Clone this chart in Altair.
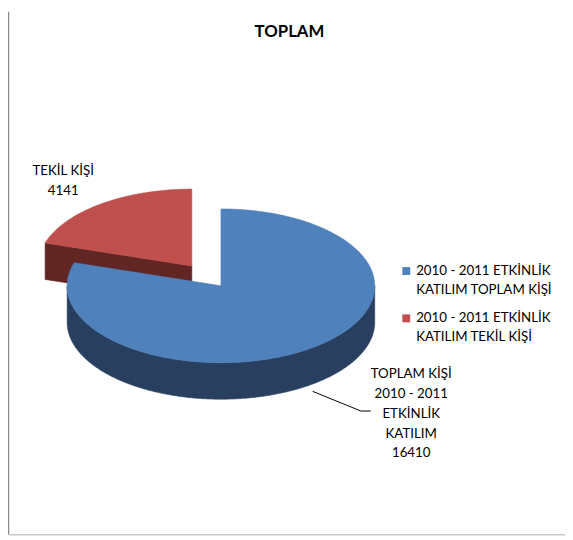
import numpy as np
import pandas as pd
import altair as alt

# ---------------- data ----------------
categories = ["2010 - 2011 ETKİNLİK KATILIM TOPLAM KİŞİ",
              "2010 - 2011 ETKİNLİK KATILIM TEKİL KİŞİ"]
values = [16410, 4141]
legend_lines = [["2010 - 2011 ETKİNLİK", "KATILIM TOPLAM KİŞİ"],
                ["2010 - 2011 ETKİNLİK", "KATILIM TEKİL KİŞİ"]]
data_labels = [["TOPLAM KİŞİ", "2010 - 2011", "ETKİNLİK", "KATILIM", "16410"],
               ["TEKİL KİŞİ", "4141"]]
title_text = "TOPLAM"

# ---------------- style / layout ----------------
top_colors = ["#4f81bd", "#c0504d"]
side_colors = ["#283f60", "#612624"]
explode = [0.0, 0.32]
CX, CY, RX, RY, DEPTH = 224, 286, 156, 78, 37
STEP = 0.5
FONT = "Lato"
label_anchor = [(417, 376), (64, 170)]
label_lh = 20
legend_anchor = [(412, 271), (412, 319)]
legend_lh = 19

W, H = 565, 532
XS = alt.Scale(domain=[8, 573], nice=False, zero=False)
YS = alt.Scale(domain=[8, 540], nice=False, zero=False, reverse=True)

# ---------------- pie geometry from values ----------------
total = float(sum(values))
slices = []
start = 0.0
for i, v in enumerate(values):
    sweep = 360.0 * v / total
    a, b = start, start + sweep
    start = b
    mid = np.radians((a + b) / 2)
    ox = CX + explode[i] * RX * np.sin(mid)
    oy = CY - explode[i] * RY * np.cos(mid)
    slices.append((i, a, b, ox, oy))


def rim(ox, oy, t):
    r = np.radians(t)
    return ox + RX * np.sin(r), oy - RY * np.cos(r)


polys = []  # (color, [(x, y), ...]) in drawing order
for i, a, b, ox, oy in sorted(slices, key=lambda s: s[4]):
    # outer rim side (front half only)
    lo, hi = max(a, 90.0), min(b, 270.0)
    if hi > lo:
        ts = np.append(np.arange(lo, hi, STEP), hi)
        upper = [rim(ox, oy, t) for t in ts]
        lower = [(x, y + DEPTH) for x, y in reversed(upper)]
        polys.append((side_colors[i], upper + lower))
    # cut faces facing the viewer
    for ang, sgn in ((a, -1), (b, 1)):
        if np.cos(np.radians(ang + sgn * 90)) < -1e-6:
            ex, ey = rim(ox, oy, ang)
            polys.append((side_colors[i],
                          [(ox, oy), (ex, ey), (ex, ey + DEPTH), (ox, oy + DEPTH)]))
    # top face
    ts = np.append(np.arange(a, b, STEP), b)
    polys.append((top_colors[i], [(ox, oy)] + [rim(ox, oy, t) for t in ts]))

prow = []
for pid, (c, pts) in enumerate(polys):
    for o, (x, y) in enumerate(pts + [pts[0]]):
        prow.append((pid, o, x, y))
pdf = pd.DataFrame(prow, columns=["pid", "o", "x", "y"])

base = alt.Chart(pdf)
pie_layers = []
for pid, (c, pts) in enumerate(polys):
    pie_layers.append(
        base.transform_filter(alt.datum.pid == pid)
        .mark_line(fill=c, stroke=c, strokeWidth=0.6, strokeJoin="round")
        .encode(x=alt.X("x:Q", scale=XS, axis=None),
                y=alt.Y("y:Q", scale=YS, axis=None),
                order="o:Q")
    )

# ---------------- text ----------------
lab_rows = []
for k, lines in enumerate(data_labels):
    ax, ay = label_anchor[k]
    for j, ln in enumerate(lines):
        lab_rows.append((ax, ay + j * label_lh, ln))
labs = pd.DataFrame(lab_rows, columns=["x", "y", "t"])
labels = alt.Chart(labs).mark_text(font=FONT, fontSize=13.5, color="#000000",
                                   align="center", baseline="middle").encode(
    x=alt.X("x:Q", scale=XS, axis=None), y=alt.Y("y:Q", scale=YS, axis=None), text="t:N")

leg_rows, sq_rows = [], []
for k, lines in enumerate(legend_lines):
    lx, ly = legend_anchor[k]
    sq_rows.append((lx, ly, top_colors[k], categories[k]))
    for j, ln in enumerate(lines):
        leg_rows.append((lx + 10, ly + j * legend_lh, ln))
legdf = pd.DataFrame(leg_rows, columns=["x", "y", "t"])
sqdf = pd.DataFrame(sq_rows, columns=["x", "y", "c", "cat"])
legend_text = alt.Chart(legdf).mark_text(font=FONT, fontSize=13.5, color="#000000",
                                         align="left", baseline="middle").encode(
    x=alt.X("x:Q", scale=XS, axis=None), y=alt.Y("y:Q", scale=YS, axis=None), text="t:N")
legend_sq = alt.Chart(sqdf).mark_square(size=64, opacity=1).encode(
    x=alt.X("x:Q", scale=XS, axis=None), y=alt.Y("y:Q", scale=YS, axis=None),
    color=alt.Color("c:N", scale=None, legend=None))

title = alt.Chart(pd.DataFrame({"x": [293.5], "y": [29], "t": [title_text]})).mark_text(
    font=FONT, fontSize=17, fontWeight="bold", color="#000000", align="center", baseline="middle"
).encode(x=alt.X("x:Q", scale=XS, axis=None), y=alt.Y("y:Q", scale=YS, axis=None), text="t:N")

# leader line
lead = pd.DataFrame({"x": [317, 366, 376], "y": [393, 413, 413], "o": [0, 1, 2]})
leader = alt.Chart(lead).mark_line(color="#000000", strokeWidth=1).encode(
    x=alt.X("x:Q", scale=XS, axis=None), y=alt.Y("y:Q", scale=YS, axis=None), order="o:Q")

# frame
frame_df = pd.DataFrame({"x": [8.5, 8.5], "y": [8, 538.5], "x2": [8.5, 573], "y2": [538.5, 538.5],
                         "c": ["#8c8c8c", "#c8c8c8"]})
frame = alt.Chart(frame_df).mark_rule(strokeWidth=1.5).encode(
    x=alt.X("x:Q", scale=XS, axis=None), y=alt.Y("y:Q", scale=YS, axis=None),
    x2="x2:Q", y2="y2:Q", color=alt.Color("c:N", scale=None, legend=None))

chart = alt.layer(frame, *pie_layers, leader, labels, legend_sq, legend_text, title).properties(
    width=W, height=H, padding=0, autosize=alt.AutoSizeParams(type="none"),
    background="white"
).configure_view(strokeWidth=0)

chart.save("out.html", embed_options={"renderer": "svg", "actions": False})
